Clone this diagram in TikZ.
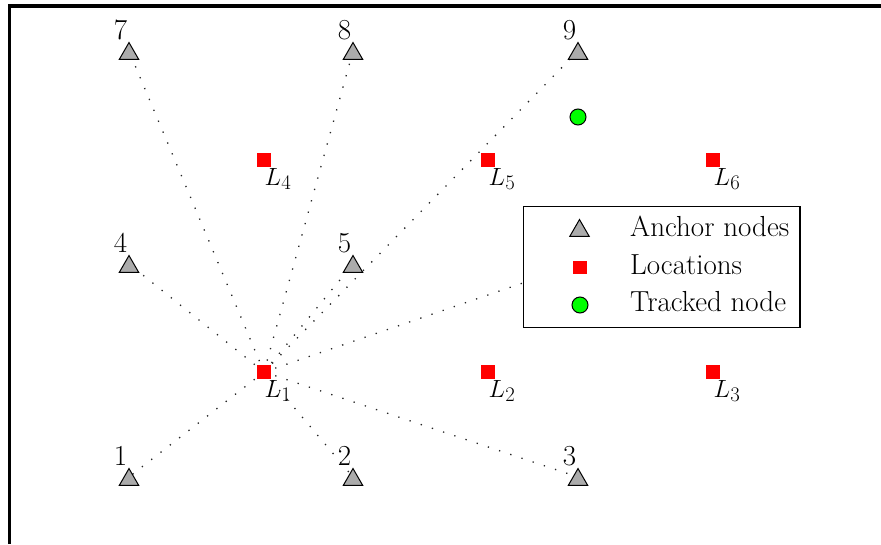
\documentclass[tikz,border=0pt]{standalone}
\usetikzlibrary{shapes.geometric,calc}
\begin{document}
\begin{tikzpicture}[x=1pt,y=-1pt,
  anc/.style={regular polygon, regular polygon sides=3, minimum size=22.5pt, inner sep=0pt,
    draw=black, line width=1pt, fill=black!33},
  loc/.style={rectangle, fill=red, minimum size=13.6pt, inner sep=0pt},
  trk/.style={circle, fill=green, draw=black, line width=1pt, minimum size=16pt, inner sep=0pt},
  txt/.style={font=\fontsize{29}{34}\selectfont, inner sep=0pt},
  numlab/.style={txt, anchor=base east},
  loclab/.style={txt, anchor=base west},
  ray/.style={line width=1.3pt, dash pattern=on 1.3pt off 10.5pt, black!85},
  frame/.style={line width=3.2pt}]
\useasboundingbox (0,0) rectangle (881,544);
% frame
\draw[frame] (9.5,544) -- (9.5,6) -- (881,6);
% anchor positions (box centres)
\coordinate (a1) at (129,477);
\coordinate (a2) at (353,477);
\coordinate (a3) at (578,477);
\coordinate (a4) at (129,264);
\coordinate (a5) at (353,264);
\coordinate (a6) at (578,264);
\coordinate (a7) at (129,51);
\coordinate (a8) at (353,51);
\coordinate (a9) at (578,51);
\coordinate (L1) at (264,372);
% rays
\foreach \i in {1,...,9} {\draw[ray] (L1) -- (a\i);}
% anchors (6 is hidden behind legend)
\foreach \i in {1,2,3,4,5,7,8,9} {
  \node[anc] (t\i) at ($(a\i)+(0,2.8)$) {};
  \node[numlab] (n\i) at ($(a\i)+(-1.5,-11.5)$) {\i};
}
% locations
\node[loc] (l1) at (264,372) {};
\node[loc] (l2) at (488,372) {};
\node[loc] (l3) at (713,372) {};
\node[loc] (l4) at (264,160) {};
\node[loc] (l5) at (488,160) {};
\node[loc] (l6) at (713,160) {};
\foreach \i in {1,...,6} {\node[loclab] (ll\i) at ($(l\i)+(0.5,25)$) {$L_{\i}$};}
% tracked node
\node[trk] (tr) at (578,117) {};
% legend
\node[draw=black, fill=white, line width=1.5pt, minimum width=276.5pt, minimum height=121.2pt, inner sep=0pt] (legend) at (661.75,267.1) {};
\node[anc] (lga) at (579.5,230.8) {};
\node[loc] (lgl) at (580,267.5) {};
\node[trk] (lgt) at (580,305) {};
\node[txt, anchor=base west] (lt1) at (630,236.7) {Anchor nodes};
\node[txt, anchor=base west] (lt2) at (630,274) {Locations};
\node[txt, anchor=base west] (lt3) at (630,311) {Tracked node};
\end{tikzpicture}
\end{document}
